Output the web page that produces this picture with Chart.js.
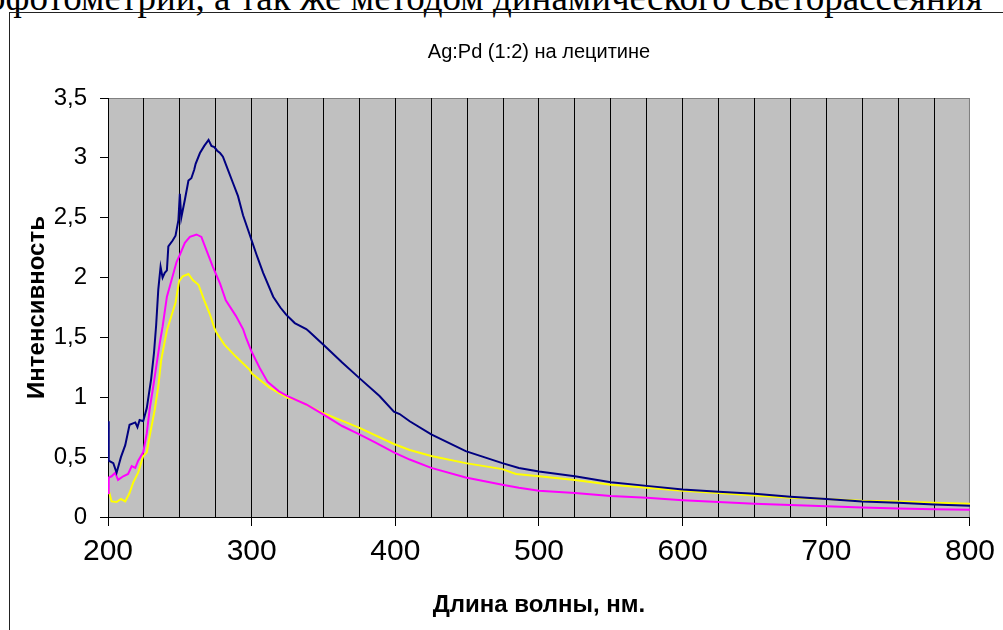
<!DOCTYPE html>
<html>
<head>
<meta charset="utf-8">
<script src="https://cdn.jsdelivr.net/npm/chart.js@4.4.0/dist/chart.umd.min.js"></script>
<style>
  html, body { margin: 0; padding: 0; background: #fff; overflow: hidden; }
  #page { position: relative; width: 1003px; height: 630px; }
  #topText {
    position: absolute; left: -13px; top: -21px; white-space: nowrap;
    font-family: "Liberation Serif", "Times New Roman", serif; font-size: 37px; line-height: 37px; color: #000;
  }
  #frame { position: absolute; left: 9px; top: 12px; width: 1100px; height: 700px; border: 1.5px solid #222; }
  #chartBox { position: absolute; left: 0; top: 0; width: 1003px; height: 630px; }
</style>
</head>
<body>
<div id="page">
  <div id="topText">офотометрии, а так же методом динамического светорассеяния</div>
  <div id="frame"></div>
  <div id="chartBox"><canvas id="spectrumChart" width="1003" height="630"></canvas></div>
</div>
<script>
const chartTitle = "Ag:Pd (1:2) на лецитине"
const xTitle = "Длина волны, нм."
const yTitle = "Интенсивность"

// navy curve
const navyWl = [200, 200.5, 203.7, 206, 209, 212, 215, 219, 220.5, 222, 224.5, 227, 230, 232, 233.5, 235, 236.6, 238, 239.5, 241, 242, 245, 247, 249, 250, 251, 253.5, 256, 258, 260, 261, 264, 267, 270, 272, 274, 276, 278, 280, 283.5, 287, 290.5, 294, 298.6, 300, 304, 308, 315, 320, 324, 330, 338, 340, 350.7, 363, 375, 389, 399, 403, 410, 425, 449, 474.5, 486, 500, 525, 550, 575, 600, 625, 650, 675, 700, 725, 750, 775, 800]
const navyVal = [0.80, 0.47, 0.45, 0.37, 0.50, 0.60, 0.77, 0.79, 0.75, 0.81, 0.80, 0.91, 1.15, 1.37, 1.60, 1.90, 2.09, 2.00, 2.04, 2.06, 2.26, 2.31, 2.35, 2.48, 2.70, 2.50, 2.65, 2.81, 2.83, 2.90, 2.95, 3.04, 3.10, 3.15, 3.10, 3.09, 3.06, 3.04, 3.01, 2.90, 2.79, 2.68, 2.52, 2.36, 2.31, 2.17, 2.04, 1.84, 1.75, 1.69, 1.62, 1.57, 1.55, 1.43, 1.29, 1.16, 1.01, 0.88, 0.86, 0.80, 0.69, 0.55, 0.45, 0.41, 0.38, 0.34, 0.29, 0.26, 0.23, 0.21, 0.195, 0.17, 0.15, 0.13, 0.12, 0.105, 0.095]

// magenta curve
const pinkWl = [200, 200.5, 202.5, 205, 207, 210.6, 214, 216.5, 219, 221, 224.5, 227, 229, 231.5, 234, 236, 238, 241, 243, 247.7, 250, 253.5, 257, 261.6, 265, 268.5, 273, 278, 282, 289, 294, 296, 300, 305.6, 311, 319, 325, 338, 349.5, 363, 375, 386.6, 399, 410, 425, 449, 474.5, 486, 500, 525, 550, 575, 600, 625, 650, 675, 700, 725, 750, 775, 800]
const pinkVal = [0.20, 0.33, 0.34, 0.37, 0.31, 0.34, 0.36, 0.425, 0.41, 0.47, 0.54, 0.70, 0.90, 1.09, 1.29, 1.45, 1.59, 1.84, 1.925, 2.13, 2.19, 2.29, 2.34, 2.36, 2.34, 2.23, 2.09, 1.95, 1.81, 1.68, 1.57, 1.50, 1.38, 1.245, 1.13, 1.05, 1.01, 0.94, 0.86, 0.76, 0.69, 0.62, 0.54, 0.48, 0.41, 0.33, 0.27, 0.245, 0.22, 0.20, 0.175, 0.16, 0.14, 0.125, 0.11, 0.10, 0.09, 0.08, 0.07, 0.065, 0.06]

// yellow curve
const yellowWl = [200, 202.5, 206, 209, 212, 215, 217.6, 221, 224.5, 227, 229, 232.6, 235, 237, 241, 244, 247, 249.5, 252, 256, 259, 263, 267, 271, 274, 275.5, 281, 285, 289, 298.6, 300, 312.5, 325, 331, 349.5, 375, 399, 410, 425, 449, 474.5, 484, 500, 525, 550, 575, 600, 625, 650, 675, 700, 725, 750, 775, 800]
const yellowVal = [0.245, 0.13, 0.125, 0.15, 0.13, 0.20, 0.29, 0.37, 0.51, 0.54, 0.675, 0.90, 1.09, 1.31, 1.56, 1.675, 1.79, 1.97, 2.01, 2.03, 1.98, 1.94, 1.81, 1.69, 1.58, 1.54, 1.44, 1.39, 1.34, 1.23, 1.20, 1.08, 0.995, 0.98, 0.87, 0.745, 0.61, 0.56, 0.51, 0.45, 0.40, 0.36, 0.34, 0.31, 0.27, 0.245, 0.22, 0.20, 0.18, 0.16, 0.15, 0.135, 0.13, 0.12, 0.11]

const xTicks = [200, 300, 400, 500, 600, 700, 800]

function toPoints(xs, ys) {
    return xs.map((x, i) => ({ x: x, y: ys[i] }))
}

const plotBackground = {
    id: "plotBackground",
    beforeDraw(chart) {
        const { ctx, chartArea: a } = chart
        ctx.save()
        ctx.fillStyle = "#c0c0c0"
        ctx.fillRect(a.left, a.top, a.right - a.left, a.bottom - a.top)
        ctx.strokeStyle = "#808080"
        ctx.lineWidth = 1
        ctx.strokeRect(a.left + 0.5, a.top + 0.5, a.right - a.left - 1, a.bottom - a.top)
        ctx.restore()
    },
    afterDraw(chart) {
        const { ctx, chartArea: a } = chart
        ctx.save()
        ctx.fillStyle = "#000"
        ctx.font = "20px 'Liberation Sans', Arial, sans-serif"
        ctx.textAlign = "center"
        ctx.textBaseline = "middle"
        ctx.fillText(chartTitle, (a.left + a.right) / 2, 52)
        ctx.restore()
    }
}

const ctx = document.getElementById("spectrumChart")

new Chart(ctx, {
    type: "line",
    data: {
        datasets: [
            { data: toPoints(navyWl, navyVal), borderColor: "#000080", borderWidth: 2, pointRadius: 0, tension: 0 },
            { data: toPoints(pinkWl, pinkVal), borderColor: "#ff00ff", borderWidth: 2, pointRadius: 0, tension: 0 },
            { data: toPoints(yellowWl, yellowVal), borderColor: "#ffff00", borderWidth: 2, pointRadius: 0, tension: 0 }
        ]
    },
    options: {
        responsive: false,
        animation: false,
        layout: { padding: { left: 10, right: 29, top: 98, bottom: 0 } },
        plugins: {
            legend: { display: false },
            tooltip: { enabled: false }
        },
        scales: {
            x: {
                type: "linear",
                min: 200,
                max: 800,
                ticks: {
                    stepSize: 25,
                    autoSkip: false,
                    maxRotation: 0,
                    color: "#000",
                    padding: 8,
                    font: { family: "'Liberation Sans', Arial, sans-serif", size: 30 },
                    callback: v => xTicks.includes(v) ? v : ""
                },
                grid: {
                    color: c => (c.tick && c.tick.value === 800) ? "#808080" : "#000",
                    lineWidth: 1,
                    tickLength: 9,
                    tickColor: c => (c.tick && xTicks.includes(c.tick.value)) ? "#000" : "rgba(0,0,0,0)"
                },
                border: { color: "#000", width: 1 },
                title: {
                    display: true,
                    text: xTitle,
                    color: "#000",
                    font: { family: "'Liberation Sans', Arial, sans-serif", size: 24, weight: "bold" },
                    padding: { top: 0, bottom: 10 }
                },
                afterFit: s => { s.height = 113 }
            },
            y: {
                min: 0,
                max: 3.5,
                ticks: {
                    stepSize: 0.5,
                    color: "#000",
                    padding: 13,
                    font: { family: "'Liberation Sans', Arial, sans-serif", size: 24 },
                    callback: v => String(v).replace(".", ",")
                },
                grid: { drawOnChartArea: false, tickLength: 8, color: "#000" },
                border: { color: "#000", width: 1 },
                title: {
                    display: true,
                    text: yTitle,
                    color: "#000",
                    font: { family: "'Liberation Sans', Arial, sans-serif", size: 24, weight: "bold" },
                    padding: { top: 13, bottom: 0 }
                },
                afterFit: s => { s.width = 98 }
            }
        }
    },
    plugins: [plotBackground]
})
</script>
</body>
</html>
